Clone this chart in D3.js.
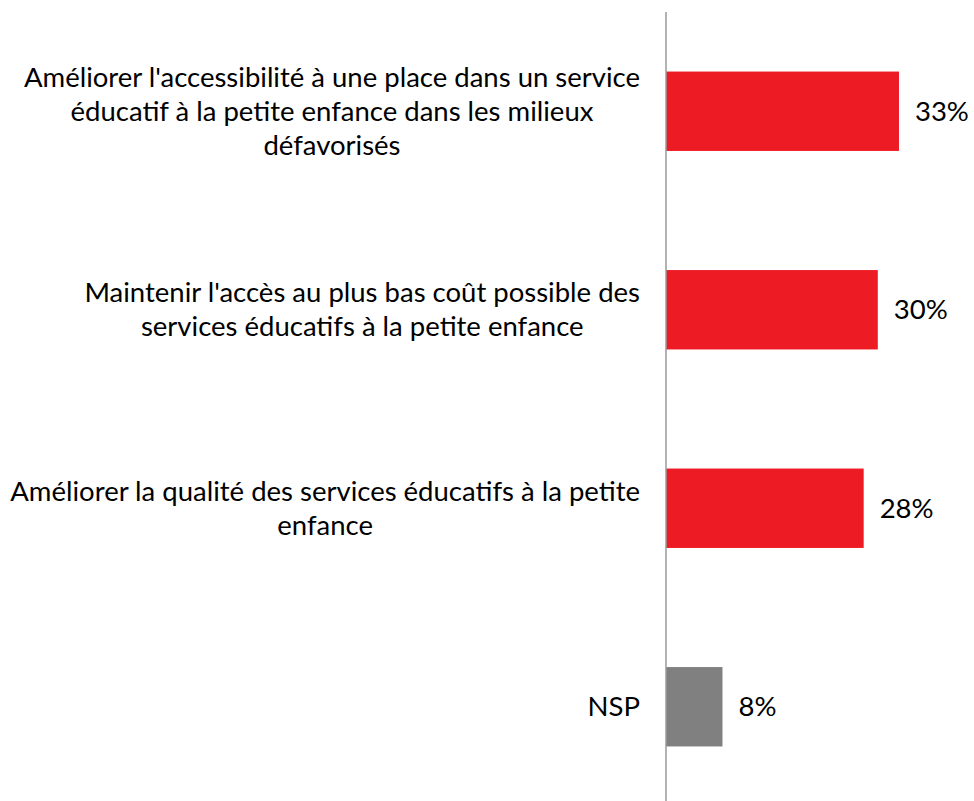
<!DOCTYPE html>
<html>
<head>
<meta charset="utf-8">
<script src="https://cdn.jsdelivr.net/npm/d3@7"></script>
<style>
  body { margin: 0; background: #fff; }
  svg text { font-family: Lato, "Open Sans", sans-serif; fill: #000; }
</style>
</head>
<body>
<div id="chart"></div>
<script>
var width = 974;
var height = 801;

// categories (tick labels, already split on lines like in the picture)
var categories = ["access", "cost", "quality", "nsp"];
var labelLines = [
  ["Améliorer l'accessibilité à une place dans un service", "éducatif à la petite enfance dans les milieux", "défavorisés"],
  ["Maintenir l'accès au plus bas coût possible des", "services éducatifs à la petite enfance"],
  ["Améliorer la qualité des services éducatifs à la petite", "enfance"],
  ["NSP"]
];
var values = [33, 30, 28, 8];
var barColors = ["#ED1C24", "#ED1C24", "#ED1C24", "#808080"];

var fontSize = 27.5;
var lineH = 34;

var svg = d3.select("#chart").append("svg")
  .attr("width", width)
  .attr("height", height);

var axisX = 666;

var x = d3.scaleLinear().domain([0, 43]).range([axisX, axisX + 43 * 7.06]);
var y = d3.scaleBand().domain(categories).range([12, 806])
  .paddingInner(0.6).paddingOuter(0.3);

// bars
svg.selectAll(".bar")
  .data(values)
  .enter().append("rect")
    .attr("class", "bar")
    .attr("x", x(0))
    .attr("y", function(d, i) { return y(categories[i]); })
    .attr("width", function(d) { return x(d) - x(0); })
    .attr("height", y.bandwidth())
    .attr("fill", function(d, i) { return barColors[i]; });

// value labels
svg.selectAll(".val")
  .data(values)
  .enter().append("text")
    .attr("class", "val")
    .attr("x", function(d) { return x(d) + 16; })
    .attr("y", function(d, i) { return y(categories[i]) + y.bandwidth() / 2; })
    .attr("dy", "0.35em")
    .style("font-size", fontSize + "px")
    .text(function(d) { return d + "%"; });

// category axis (left), ticks hidden, labels drawn as wrapped blocks
var yAxis = svg.append("g")
  .attr("class", "axis")
  .attr("transform", "translate(" + axisX + ",0)")
  .call(d3.axisLeft(y).tickSize(0).tickFormat(""));

yAxis.select(".domain").remove();

var labelRight = 640;

yAxis.selectAll(".tick").each(function(c, i) {
  var lines = labelLines[i];
  var g = d3.select(this);
  var t = g.append("text")
    .style("font-size", fontSize + "px")
    .attr("text-anchor", "middle");
  lines.forEach(function(l, j) {
    t.append("tspan").text(l);
  });
  // widest line sets the block, block is right aligned
  var maxW = 0;
  t.selectAll("tspan").each(function() {
    maxW = Math.max(maxW, this.getComputedTextLength());
  });
  var cx = labelRight - axisX - maxW / 2;
  var top = -(lines.length - 1) * lineH / 2;
  t.selectAll("tspan")
    .attr("x", cx)
    .attr("y", function(d, j) { return top + j * lineH; })
    .attr("dy", "0.35em");
});

// vertical axis line
svg.append("line")
  .attr("x1", axisX).attr("x2", axisX)
  .attr("y1", 12).attr("y2", height)
  .attr("stroke", "#9a9a9a")
  .attr("stroke-width", 1.5);
</script>
</body>
</html>
